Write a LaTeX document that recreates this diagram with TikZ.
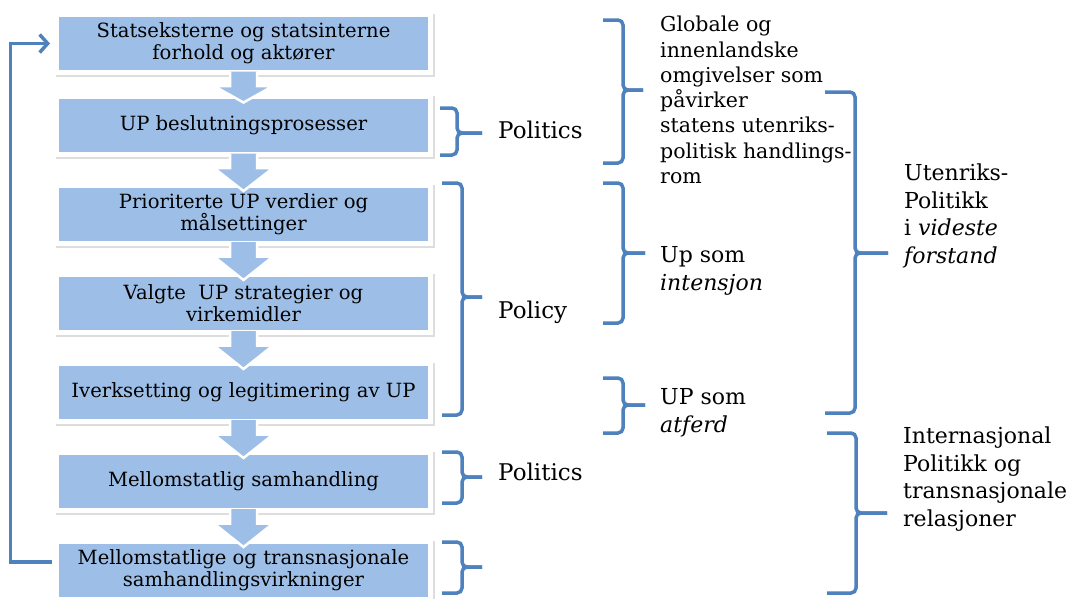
\documentclass[tikz,border=0pt]{standalone}
\usepackage{fontspec}
\setmainfont{DejaVu Serif}
\usetikzlibrary{arrows.meta,calc}
\definecolor{box-fill}{HTML}{9DBFE7}
\definecolor{line-blue}{HTML}{4F81BD}
\definecolor{shade}{HTML}{DDDDDD}

\begin{document}
\begin{tikzpicture}[x=1pt, y=-1pt,
    stage/.style={draw=white, line width=5pt, fill=box-fill,
      minimum width=374pt, minimum height=58pt, inner sep=0pt,
      align=center, font=\fontsize{19.6}{22}\selectfont,
      preaction={draw=shade, fill=shade, line width=5pt,
        transform canvas={shift={(1.5pt,-2pt)}}}},
    flow/.style={draw=white, line width=2.5pt, fill=box-fill},
    loopback/.style={draw=line-blue, line width=3.5pt,
      -{Straight Barb[length=8pt, width=18pt, line width=3.5pt]}},
    bracket/.style={draw=line-blue, line width=3.5pt, rounded corners=5pt},
    lab/.style={anchor=west, align=left, inner sep=0pt,
      font=\fontsize{22}{27.5}\selectfont}]
  \useasboundingbox (0,0) rectangle (1076,598);

  % the chain of stages
  \foreach \n/\y/\txt in {1/43.5/{Statseksterne og statsinterne\\forhold og aktører},
      2/125.5/{UP beslutningsprosesser},
      3/214/{Prioriterte UP verdier og\\målsettinger},
      4/303/{Valgte~ UP strategier og\\virkemidler},
      5/392/{Iverksetting og legitimering av UP},
      6/481/{Mellomstatlig samhandling},
      7/570/{Mellomstatlige og transnasjonale\\samhandlingsvirkninger}} {
    \node[stage] (b\n) at (243.5,\y) {\txt};
  }
  \foreach \i [count=\j from 2] in {1,...,6} {
    \draw[flow] ($(b\i.south)+(-13.5,-3.5)$) -- ($(b\i.south)+(-13.5,11)$)
      -- ($(b\i.south)+(-29.5,11)$) -- ($(b\j.north)+(0,8.5)$)
      -- ($(b\i.south)+(29.5,11)$) -- ($(b\i.south)+(13.5,11)$)
      -- ($(b\i.south)+(13.5,-3.5)$);
  }
  \draw[loopback] ($(b7.west)+(-2.5,-8)$) -- ++(-41,0) |- ($(b1.west)+(-4,0)$);

  % brackets
  \foreach \n/\xl/\xv/\xt/\top/\mid/\bot in {A/440/457/482/108/133/155,
      B/442/462/482/183/297/415, C/442/462/482/452/477/503,
      D/442/462/482/542/567/593, E/603/623/643/20/90/163,
      F/603/623/645/183/253/323, G/603/623/645/378/405/433,
      H/825/855/888/92/253/413, I/827/856/887/433/513/593} {
    \draw[bracket] (\xl,\top) -- (\xv,\top) -- (\xv,\mid) -- (\xt,\mid);
    \draw[bracket] (\xl,\bot) -- (\xv,\bot) -- (\xv,\mid) -- (\xt,\mid);
    \coordinate (tip\n) at (\xt,\mid);
  }

  \node[lab, font=\fontsize{23}{27}\selectfont] (pol1) at (498,130) {Politics};
  \node[lab, font=\fontsize{23}{27}\selectfont] (policy) at (498,312) {Policy};
  \node[lab, font=\fontsize{23}{27}\selectfont] (pol2) at (498,472) {Politics};
  \node[lab, font=\fontsize{20.5}{25.3}\selectfont] (omgiv) at (660,100)
    {Globale og\\innenlandske\\omgivelser som\\påvirker\\statens utenriks-\\politisk handlings-\\rom};
  \node[lab] (intens) at (660,271) {Up som\\\textit{intensjon}};
  \node[lab] (atferd) at (660,413) {UP som\\\textit{atferd}};
  \node[lab] (videst) at (904,216)
    {Utenriks-\\Politikk\\i \textit{videste}\\\textit{forstand}};
  \node[lab] (internas) at (903,479)
    {Internasjonal\\Politikk og\\transnasjonale\\relasjoner};
\end{tikzpicture}
\end{document}
